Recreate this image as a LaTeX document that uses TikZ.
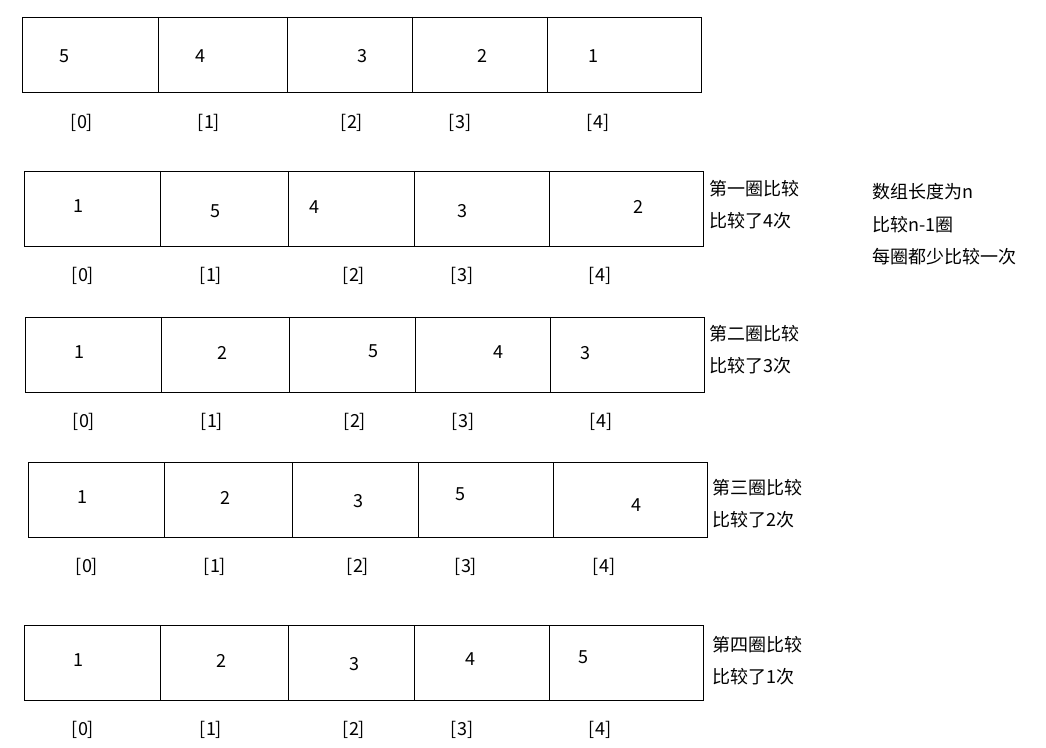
\documentclass[tikz,border=0pt]{standalone}
\usepackage{fontspec}
\setmainfont{Noto Sans CJK SC}
\usetikzlibrary{positioning}

\begin{document}
\begin{tikzpicture}[
  x=0.75pt, y=-0.75pt,
  font=\fontsize{13.5}{16}\selectfont,
  cellbox/.style={draw=black, line width=0.7pt},
  num/.style={inner sep=0pt, anchor=center},
  idx/.style={inner sep=0pt, anchor=center},
  note/.style={inner sep=0pt, anchor=west}
]

  \useasboundingbox (0,0) rectangle (1046,748);

  % row 0: initial array
  \draw[cellbox] (22,17) rectangle (701,92);
  \foreach \x in {158,287,412,547} {
    \draw[cellbox] (\x,17) -- (\x,92);
  }
  \foreach \x/\v [count=\i from 0] in {64/5,200/4,362/3,482/2,593/1} {
    \node[num] (aN\i) at (\x,56) {\v};
  }
  \foreach \x [count=\i from 0] in {82,209,352,460,598} {
    \node[idx] (aI\i) at (\x,123) {[\i]};
  }

  % row 1
  \draw[cellbox] (24,171) rectangle (703,246);
  \foreach \x in {160,288,414,549} {
    \draw[cellbox] (\x,171) -- (\x,246);
  }
  \foreach \x/\y/\v [count=\i from 0] in {78/206/1,215/211/5,314/207/4,462/211/3,638/207/2} {
    \node[num] (bN\i) at (\x,\y) {\v};
  }
  \foreach \x [count=\i from 0] in {83,211,354,462,600} {
    \node[idx] (bI\i) at (\x,276) {[\i]};
  }
  \node[note] (bT1) at (709,189) {第一圈比较};
  \node[note] (bT2) at (709,221) {比较了4次};

  % row 2
  \draw[cellbox] (25,317) rectangle (704,392);
  \foreach \x in {161,289,415,550} {
    \draw[cellbox] (\x,317) -- (\x,392);
  }
  \foreach \x/\y/\v [count=\i from 0] in {79/352/1,222/353/2,373/351/5,498/352/4,585/353/3} {
    \node[num] (cN\i) at (\x,\y) {\v};
  }
  \foreach \x [count=\i from 0] in {84,212,355,463,601} {
    \node[idx] (cI\i) at (\x,422) {[\i]};
  }
  \node[note] (cT1) at (709,334) {第二圈比较};
  \node[note] (cT2) at (709,366) {比较了3次};

  % row 3
  \draw[cellbox] (28,462) rectangle (707,537);
  \foreach \x in {164,292,418,553} {
    \draw[cellbox] (\x,462) -- (\x,537);
  }
  \foreach \x/\y/\v [count=\i from 0] in {82/497/1,225/498/2,358/501/3,460/494/5,636/505/4} {
    \node[num] (dN\i) at (\x,\y) {\v};
  }
  \foreach \x [count=\i from 0] in {87,215,358,466,604} {
    \node[idx] (dI\i) at (\x,567) {[\i]};
  }
  \node[note] (dT1) at (712,488) {第三圈比较};
  \node[note] (dT2) at (712,520) {比较了2次};

  % row 4
  \draw[cellbox] (24,625) rectangle (703,700);
  \foreach \x in {160,288,414,549} {
    \draw[cellbox] (\x,625) -- (\x,700);
  }
  \foreach \x/\y/\v [count=\i from 0] in {78/660/1,221/661/2,354/664/3,470/659/4,583/657/5} {
    \node[num] (eN\i) at (\x,\y) {\v};
  }
  \foreach \x [count=\i from 0] in {83,211,354,462,600} {
    \node[idx] (eI\i) at (\x,730) {[\i]};
  }
  \node[note] (eT1) at (712,645) {第四圈比较};
  \node[note] (eT2) at (712,677) {比较了1次};

  % summary
  \node[note] (sum1) at (872,192) {数组长度为n};
  \node[note] (sum2) at (872,225) {比较n-1圈};
  \node[note] (sum3) at (872,257) {每圈都少比较一次};

\end{tikzpicture}
\end{document}
